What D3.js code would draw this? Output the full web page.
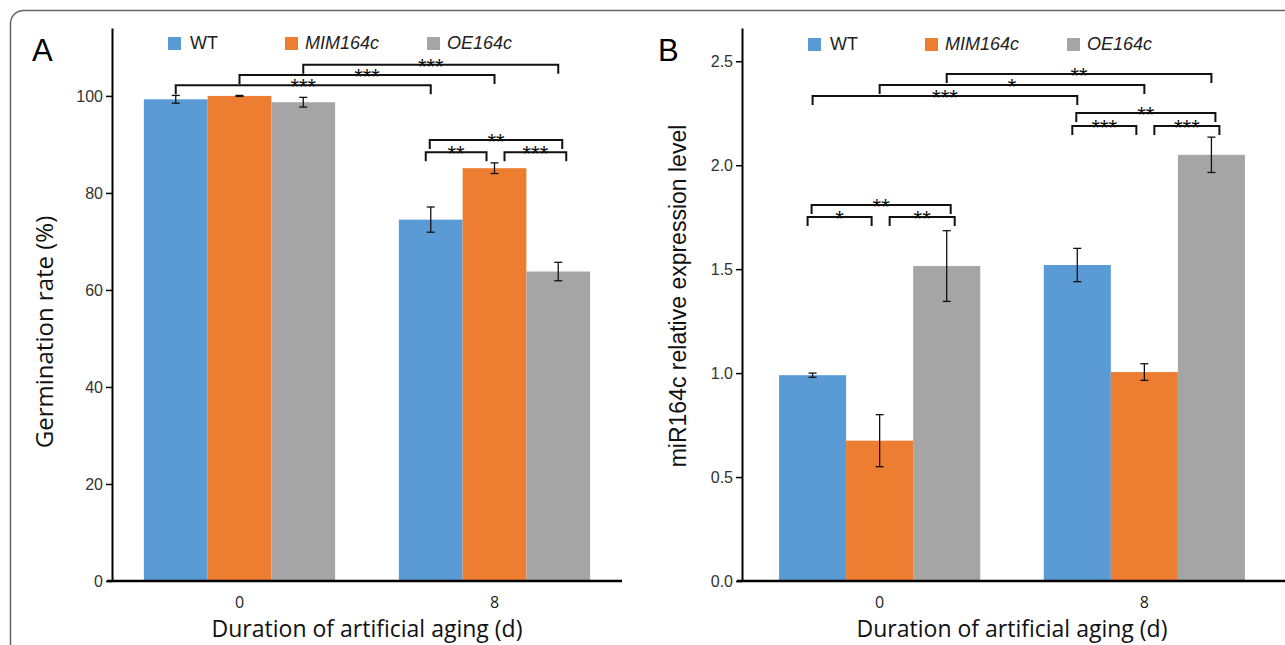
<!DOCTYPE html>
<html>
<head>
<meta charset="utf-8">
<script src="https://cdn.jsdelivr.net/npm/d3@7"></script>
<style>
  body { margin: 0; background: #fff; }
  svg { display: block; }
</style>
</head>
<body>
<div id="chart"></div>
<script>
// ---- data ----
const groups = ["0", "8"];
const seriesNames = ["WT", "MIM164c", "OE164c"];
const seriesColors = ["#5B9BD5", "#ED7D31", "#A5A5A5"];

// panel A: germination rate (%)
const germMean = [[99.3, 100.0, 98.7], [74.5, 85.1, 63.8]];
const germErr = [[0.8, 0.1, 1.0], [2.6, 1.1, 1.9]];
const germTicks = [0, 20, 40, 60, 80, 100];
// brackets: [group, series] -> [group, series], height in data units, label
const germBrackets = [
  { from: [0, 0], to: [1, 0], level: 102.2, label: "***" },
  { from: [0, 1], to: [1, 1], level: 104.3, label: "***" },
  { from: [0, 2], to: [1, 2], level: 106.4, label: "***" },
  { from: [1, 0], to: [1, 1], level: 88.4, label: "**" },
  { from: [1, 1], to: [1, 2], level: 88.4, label: "***" },
  { from: [1, 0], to: [1, 2], level: 90.9, label: "**" },
];

// panel B: miR164c relative expression
const exprMean = [[0.99, 0.675, 1.515], [1.52, 1.005, 2.05]];
const exprErr = [[0.01, 0.125, 0.17], [0.08, 0.04, 0.085]];
const exprTicks = [0, 0.5, 1.0, 1.5, 2.0, 2.5];
const exprBrackets = [
  { from: [0, 0], to: [0, 1], level: 1.751, label: "*" },
  { from: [0, 1], to: [0, 2], level: 1.751, label: "**" },
  { from: [0, 0], to: [0, 2], level: 1.809, label: "**" },
  { from: [1, 0], to: [1, 1], level: 2.189, label: "***" },
  { from: [1, 1], to: [1, 2], level: 2.189, label: "***" },
  { from: [1, 0], to: [1, 2], level: 2.251, label: "**" },
  { from: [0, 0], to: [1, 0], level: 2.333, label: "***" },
  { from: [0, 1], to: [1, 1], level: 2.386, label: "*" },
  { from: [0, 2], to: [1, 2], level: 2.439, label: "**" },
];

const W = 1285, H = 645;
const svg = d3.select("#chart").append("svg")
  .attr("width", W).attr("height", H);

svg.append("rect").attr("width", W).attr("height", H).attr("fill", "#fff");

// rounded frame around the figure (open to the right and bottom)
svg.append("rect")
  .attr("x", 10.5).attr("y", 10.5)
  .attr("width", W + 40).attr("height", H + 40)
  .attr("rx", 13)
  .attr("fill", "none")
  .attr("stroke", "#666")
  .attr("stroke-width", 1.5);

const sansFont = "'Liberation Sans', Arial, sans-serif";
const uiFont = "'Open Sans', 'Noto Sans', sans-serif";

function drawPanel(cfg) {
  const g = svg.append("g");

  const x0 = d3.scaleBand()
    .domain(groups)
    .range([cfg.left, cfg.right])
    .paddingInner(cfg.padInner)
    .paddingOuter(cfg.padOuter);

  const x1 = d3.scaleBand()
    .domain(seriesNames)
    .range([0, x0.bandwidth()]);

  const y = d3.scaleLinear()
    .domain([0, cfg.yMax])
    .range([cfg.bottom, cfg.top]);

  const barCenter = (gi, si) =>
    x0(groups[gi]) + x1(seriesNames[si]) + x1.bandwidth() / 2;

  // bars
  cfg.mean.forEach((vals, gi) => {
    vals.forEach((v, si) => {
      g.append("rect")
        .attr("x", x0(groups[gi]) + x1(seriesNames[si]))
        .attr("y", y(v))
        .attr("width", x1.bandwidth())
        .attr("height", y(0) - y(v))
        .attr("fill", seriesColors[si]);
    });
  });

  // error bars
  cfg.mean.forEach((vals, gi) => {
    vals.forEach((v, si) => {
      const cx = barCenter(gi, si);
      const e = cfg.err[gi][si];
      const eb = g.append("g")
        .attr("stroke", "#111")
        .attr("stroke-width", 1.3);
      eb.append("line")
        .attr("x1", cx).attr("x2", cx)
        .attr("y1", y(v + e)).attr("y2", y(v - e));
      [v + e, v - e].forEach((yy) => {
        eb.append("line")
          .attr("x1", cx - 4).attr("x2", cx + 4)
          .attr("y1", y(yy)).attr("y2", y(yy));
      });
    });
  });

  // significance brackets
  cfg.brackets.forEach((b) => {
    let xa = barCenter(b.from[0], b.from[1]);
    let xb = barCenter(b.to[0], b.to[1]);
    if (b.from[0] === b.to[0]) {
      // within-group brackets are nudged so neighbours don't touch
      const pair = `${b.from[1]}${b.to[1]}`;
      if (pair === "01") { xa -= 5; xb -= 8; }
      else if (pair === "12") { xa += 10; xb += 8; }
      else { xa -= 1; xb += 4; }
    }
    const yy = y(b.level);
    g.append("path")
      .attr("d", `M${xa},${yy + 9}V${yy}H${xb}V${yy + 9}`)
      .attr("fill", "none")
      .attr("stroke", "#111")
      .attr("stroke-width", 2);
    g.append("text")
      .attr("x", (xa + xb) / 2)
      .attr("y", yy + 9)
      .attr("text-anchor", "middle")
      .attr("font-family", sansFont)
      .attr("font-size", 22)
      .attr("fill", "#111")
      .text(b.label);
  });

  // y axis
  const yAxis = g.append("g")
    .attr("transform", `translate(${cfg.left},0)`)
    .call(d3.axisLeft(y)
      .tickValues(cfg.ticks)
      .tickFormat(cfg.tickFmt)
      .tickSize(6)
      .tickPadding(3)
      .tickSizeOuter(0));
  yAxis.select(".domain").attr("stroke", "#000").attr("stroke-width", 2);
  yAxis.selectAll(".tick line").attr("stroke", "#000").attr("stroke-width", 1.5);
  yAxis.selectAll(".tick text")
    .attr("font-family", sansFont)
    .attr("font-size", 16)
    .attr("fill", "#333");

  // x axis
  const xAxis = g.append("g")
    .attr("transform", `translate(0,${cfg.bottom})`)
    .call(d3.axisBottom(x0).tickSize(0).tickPadding(16).tickSizeOuter(0));
  xAxis.select(".domain").remove();
  xAxis.append("line")
    .attr("x1", cfg.left - 5).attr("x2", cfg.axisEnd)
    .attr("stroke", "#000").attr("stroke-width", 2.5);
  xAxis.selectAll(".tick text")
    .attr("font-family", uiFont)
    .attr("font-size", 16)
    .attr("fill", "#222");

  // axis titles
  g.append("text")
    .attr("x", (cfg.left + cfg.right) / 2)
    .attr("y", 637)
    .attr("text-anchor", "middle")
    .attr("font-family", uiFont)
    .attr("font-size", 23)
    .attr("fill", "#111")
    .text("Duration of artificial aging (d)");

  g.append("text")
    .attr("transform", `translate(${cfg.yTitleX},${cfg.yTitleY}) rotate(-90)`)
    .attr("text-anchor", "middle")
    .attr("font-family", cfg.yTitleFont)
    .attr("font-size", cfg.yTitleSize)
    .attr("fill", "#111")
    .text(cfg.yTitle);

  // panel letter
  g.append("text")
    .attr("x", cfg.letterX)
    .attr("y", 61)
    .attr("font-family", sansFont)
    .attr("font-size", 31)
    .attr("fill", "#000")
    .text(cfg.letter);

  // legend
  const legendOffsets = [0, 117, 259];
  seriesNames.forEach((name, i) => {
    const lx = cfg.legendX + legendOffsets[i];
    g.append("rect")
      .attr("x", lx).attr("y", cfg.legendY - 12)
      .attr("width", 13).attr("height", 13)
      .attr("fill", seriesColors[i]);
    g.append("text")
      .attr("x", lx + (i === 0 ? 22 : 20))
      .attr("y", cfg.legendY)
      .attr("font-family", sansFont)
      .attr("font-size", 18)
      .attr("font-style", i === 0 ? "normal" : "italic")
      .attr("fill", "#222")
      .text(name);
  });
}

drawPanel({
  letter: "A", letterX: 32,
  left: 112, right: 622, axisEnd: 622, top: 28, bottom: 581,
  padInner: 0.25, padOuter: 0.125,
  yMax: 114,
  mean: germMean, err: germErr, brackets: germBrackets,
  ticks: germTicks, tickFmt: d3.format("d"),
  yTitle: "Germination rate (%)", yTitleX: 53, yTitleY: 332,
  yTitleFont: uiFont, yTitleSize: 24,
  legendX: 168, legendY: 49,
});

drawPanel({
  letter: "B", letterX: 658,
  left: 742, right: 1282, axisEnd: 1285, top: 28, bottom: 581,
  padInner: 0.24, padOuter: 0.14,
  yMax: 2.66,
  mean: exprMean, err: exprErr, brackets: exprBrackets,
  ticks: exprTicks, tickFmt: d3.format(".1f"),
  yTitle: "miR164c relative expression level", yTitleX: 686, yTitleY: 296,
  yTitleFont: sansFont, yTitleSize: 23,
  legendX: 808, legendY: 50,
});
</script>
</body>
</html>
